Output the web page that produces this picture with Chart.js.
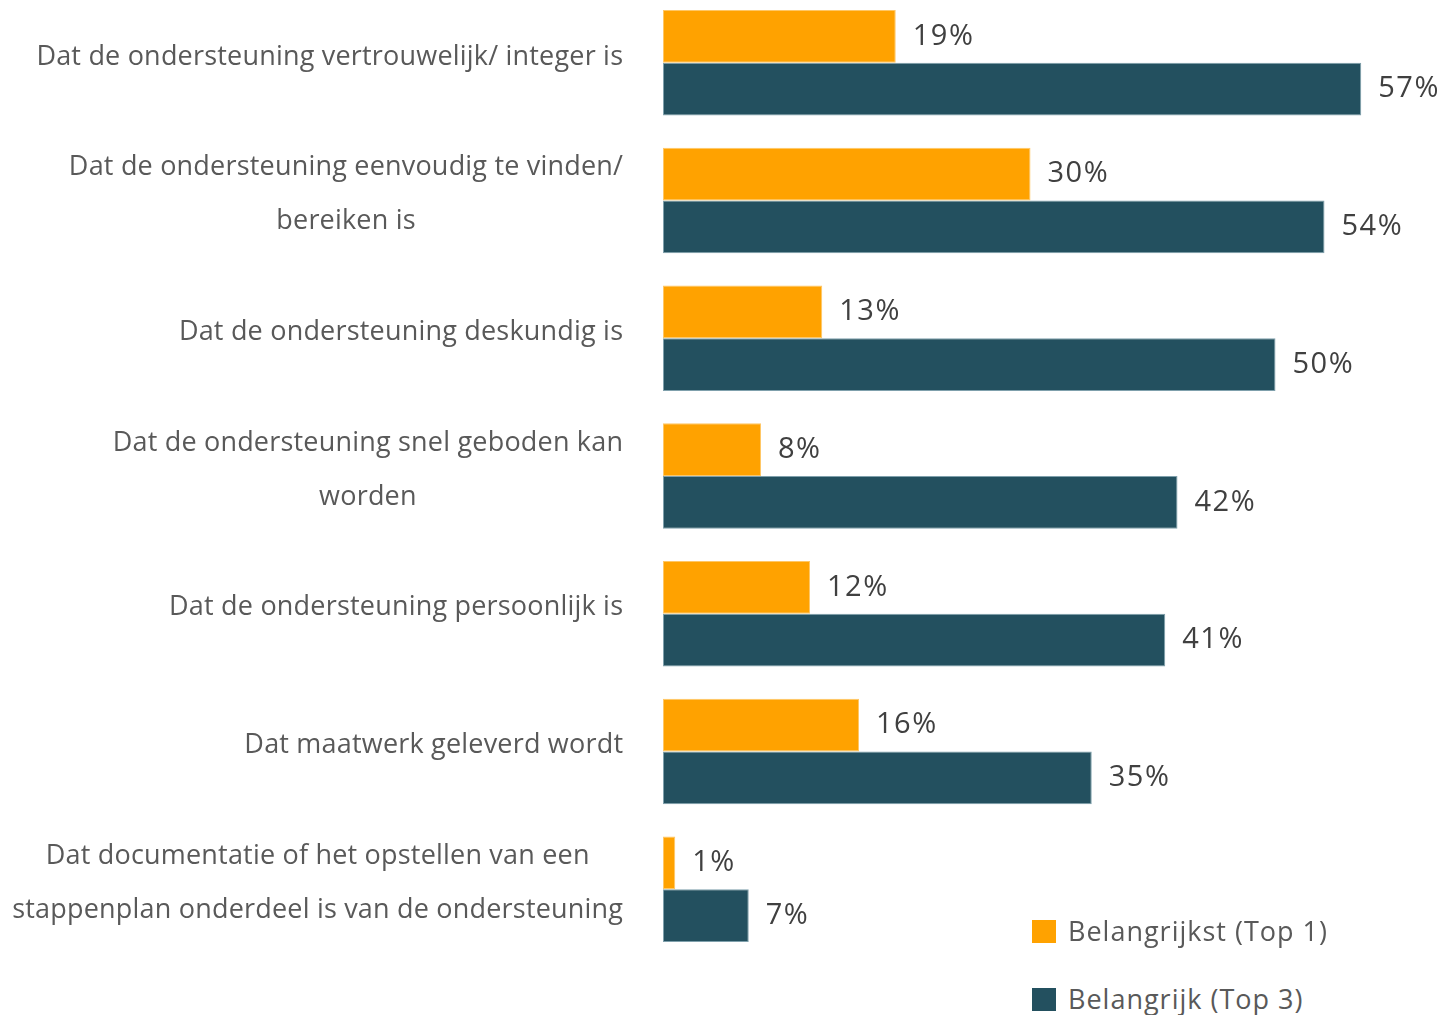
<!DOCTYPE html>
<html>
<head>
<meta charset="utf-8">
<script src="https://cdn.jsdelivr.net/npm/chart.js@4/dist/chart.umd.min.js"></script>
<style>
  html, body { margin: 0; padding: 0; background: #fff; }
  body { width: 1445px; height: 1015px; position: relative; overflow: hidden; font-family: "Open Sans", Lato, sans-serif; }
  #wrap { position: absolute; left: 0; top: -6px; width: 1445px; height: 964px; }
  .legend { position: absolute; left: 1032px; font-size: 27px; color: #595959; display: flex; align-items: center; line-height: 36px; }
  .legend .sw { width: 24px; height: 23px; margin-right: 12px; flex: none; }
</style>
</head>
<body>
<div id="wrap"><canvas id="c" width="1445" height="964"></canvas></div>
<div class="legend" style="top:913px;"><span class="sw" style="background:#FFA200"></span><span id="lg1"></span></div>
<div class="legend" style="top:981px;"><span class="sw" style="background:#23505F"></span><span id="lg2"></span></div>
<script>
const categories = [
  ["Dat de ondersteuning vertrouwelijk/ integer is"],
  ["Dat de ondersteuning eenvoudig te vinden/", "bereiken is"],
  ["Dat de ondersteuning deskundig is"],
  ["Dat de ondersteuning snel geboden kan", "worden"],
  ["Dat de ondersteuning persoonlijk is"],
  ["Dat maatwerk geleverd wordt"],
  ["Dat documentatie of het opstellen van een", "stappenplan onderdeel is van de ondersteuning"]
];
const seriesNames = ["Belangrijkst (Top 1)", "Belangrijk (Top 3)"];
const top1 = [19, 30, 13, 8, 12, 16, 1];
const top3 = [57, 54, 50, 42, 41, 35, 7];

const FONT = '27px "Open Sans", Lato, sans-serif';
const VALUE_FONT = '29px "Open Sans", Lato, sans-serif';

// letter spacing fitted so the widest label line is ~611px wide
const mctx = document.createElement('canvas').getContext('2d');
mctx.font = FONT;
const refLine = "stappenplan onderdeel is van de ondersteuning";
const baseW = mctx.measureText(refLine).width;
const SPACING = Math.max(-1, Math.min(3, (611 - baseW) / refLine.length));

document.getElementById('lg1').textContent = seriesNames[0];
document.getElementById('lg2').textContent = seriesNames[1];
document.querySelectorAll('.legend').forEach(el => el.style.letterSpacing = (SPACING + 0.8) + 'px');

const labelPlugin = {
  id: 'customLabels',
  afterDraw(chart) {
    const ctx = chart.ctx;
    const yScale = chart.scales.y;
    ctx.save();
    ctx.font = FONT;
    ctx.letterSpacing = SPACING + 'px';
    ctx.fillStyle = '#595959';
    ctx.textBaseline = 'middle';
    ctx.textAlign = 'left';
    const rightEdge = 623;
    const lineH = 54;
    const w = s => ctx.measureText(s).width - SPACING;
    categories.forEach((lines, i) => {
      const cy = yScale.getPixelForValue(i) - 6;
      const maxW = Math.max(...lines.map(w));
      const cx = rightEdge - maxW / 2;
      const startY = cy - (lines.length - 1) * lineH / 2;
      lines.forEach((l, k) => ctx.fillText(l, cx - w(l) / 2, startY + k * lineH));
    });
    ctx.font = VALUE_FONT;
    ctx.letterSpacing = (SPACING + 1.3) + 'px';
    ctx.fillStyle = '#404040';
    chart.data.datasets.forEach((ds, di) => {
      const meta = chart.getDatasetMeta(di);
      meta.data.forEach((bar, j) => {
        ctx.fillText(ds.data[j] + '%', bar.x + 17, bar.y);
      });
    });
    ctx.restore();
  }
};

new Chart(document.getElementById('c'), {
  type: 'bar',
  data: {
    labels: categories.map(c => c.join(' ')),
    datasets: [
      { label: seriesNames[0], data: top1, backgroundColor: '#FFA200', borderColor: '#FFC766', borderWidth: 1, borderSkipped: false },
      { label: seriesNames[1], data: top3, backgroundColor: '#23505F', borderColor: '#7FA0AC', borderWidth: 1, borderSkipped: false }
    ]
  },
  options: {
    indexAxis: 'y',
    responsive: false,
    animation: false,
    devicePixelRatio: 1,
    layout: { padding: { left: 663, right: 47, top: 0, bottom: 0 } },
    datasets: { bar: { categoryPercentage: 0.766, barPercentage: 1 } },
    scales: {
      x: { display: false, min: 0, max: 60 },
      y: { display: false }
    },
    plugins: { legend: { display: false }, tooltip: { enabled: false } }
  },
  plugins: [labelPlugin]
});
</script>
</body>
</html>
